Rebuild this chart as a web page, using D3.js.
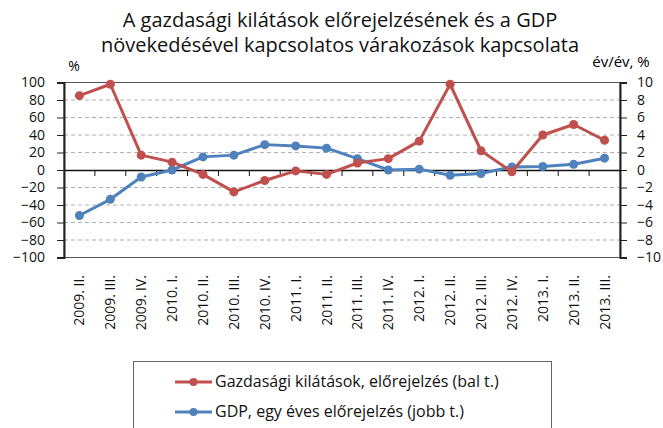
<!DOCTYPE html>
<html lang="hu"><head><meta charset="UTF-8">
<title>GDP várakozások</title>
<script src="https://d3js.org/d3.v7.min.js"></script>
<style type="text/css">
  body { margin: 0; background: #fff; }
  text { font-family: "Open Sans", "Liberation Sans", sans-serif; }
</style>
</head>
<body>
<script type="text/javascript">

var w = 663;
var h = 428;

var categories = ["2009. II.", "2009. III.", "2009. IV.", "2010. I.", "2010. II.", "2010. III.",
  "2010. IV.", "2011. I.", "2011. II.", "2011. III.", "2011. IV.", "2012. I.", "2012. II.",
  "2012. III.", "2012. IV.", "2013. I.", "2013. II.", "2013. III."];
// bal tengely, %
var kilatasok = [85, 98, 17, 9, -5, -25, -12, -1, -5, 8, 13, 33, 98, 22, -2, 40, 52, 34];
// jobb tengely, év/év %
var gdp = [-5.2, -3.35, -0.8, 0, 1.5, 1.7, 2.9, 2.75, 2.5, 1.3, 0, 0.1, -0.6, -0.4, 0.35, 0.4, 0.65, 1.35];
var leftTicks = [-100, -80, -60, -40, -20, 0, 20, 40, 60, 80, 100];
var rightTicks = [-10, -8, -6, -4, -2, 0, 2, 4, 6, 8, 10];

var titleLines = ["A gazdasági kilátások előrejelzésének és a GDP",
  "növekedésével kapcsolatos várakozások kapcsolata"];
var legendLabels = ["Gazdasági kilátások, előrejelzés (bal t.)",
  "GDP, egy éves előrejelzés (jobb t.)"];
var red = "#c0504d", blue = "#4f81bd";

var plot = {left: 64, right: 620, top: 82.5, bottom: 257.5};

var svg = d3.select("body").append("svg")
  .attr("width", w).attr("height", h);

var xScale = d3.scaleBand().domain(categories).range([plot.left, plot.right]);
var yLeft = d3.scaleLinear().domain([-100, 100]).range([plot.bottom, plot.top]);
var yRight = d3.scaleLinear().domain([-10, 10]).range([plot.bottom, plot.top]);

// title
svg.selectAll("text.title").data(titleLines).enter().append("text")
  .attr("class", "title")
  .attr("x", 340).attr("y", function(d, i) { return 27 + i * 25; })
  .attr("text-anchor", "middle")
  .attr("font-size", "20px").attr("fill", "#111")
  .text(function(d) { return d; });

svg.append("text").attr("x", 74).attr("y", 71).attr("text-anchor", "middle")
  .attr("font-size", "14px").text("%");
svg.append("text").attr("x", 621).attr("y", 67).attr("text-anchor", "middle")
  .attr("font-size", "15px").text("év/év, %");

// grid
svg.append("g").selectAll("line").data(leftTicks.filter(function(d) { return d !== 0; }))
  .enter().append("line")
  .attr("x1", plot.left).attr("x2", plot.right)
  .attr("y1", function(d) { return yLeft(d); }).attr("y2", function(d) { return yLeft(d); })
  .attr("stroke", "#b0b0b0").attr("stroke-dasharray", "4,3");

// frame
svg.append("rect").attr("x", plot.left).attr("y", plot.top)
  .attr("width", plot.right - plot.left).attr("height", plot.bottom - plot.top)
  .attr("fill", "none").attr("stroke", "#555").attr("stroke-width", 1);

// axes
var leftAxis = d3.axisLeft(yLeft).tickValues(leftTicks).tickSize(7).tickPadding(12);
var gl = svg.append("g").attr("transform", "translate(" + plot.left + ",0)").call(leftAxis);
var rightAxis = d3.axisRight(yRight).tickValues(rightTicks).tickSize(7).tickPadding(10);
var gr = svg.append("g").attr("transform", "translate(" + plot.right + ",0)").call(rightAxis);
[gl, gr].forEach(function(g) {
  g.select(".domain").attr("stroke", "#222").attr("stroke-width", 2);
  g.selectAll(".tick line").attr("stroke", "#222");
  g.selectAll(".tick text").attr("font-size", "14px").attr("fill", "#111")
    .attr("font-family", "'DejaVu Sans', sans-serif");
});

// zero line with category ticks
var xAxis = d3.axisBottom(xScale).tickSize(0).tickFormat("");
var gx = svg.append("g").attr("transform", "translate(0," + yLeft(0) + ")").call(xAxis);
gx.select(".domain").attr("stroke", "#111").attr("stroke-width", 1.5);
gx.selectAll(".sep").data(d3.range(1, categories.length)).enter().append("line")
  .attr("x1", function(i) { return plot.left + i * xScale.step(); })
  .attr("x2", function(i) { return plot.left + i * xScale.step(); })
  .attr("y1", 0).attr("y2", 6).attr("stroke", "#111");

// category labels
svg.append("g").selectAll("text").data(categories).enter().append("text")
  .attr("transform", function(d) {
    return "translate(" + (xScale(d) + xScale.bandwidth() / 2 + 5) + ",275) rotate(-90)";
  })
  .attr("text-anchor", "end")
  .attr("font-size", "14px").attr("fill", "#111")
  .attr("font-family", "'DejaVu Sans', sans-serif")
  .text(function(d) { return d; });

function cx(d, i) { return xScale(categories[i]) + xScale.bandwidth() / 2; }

function drawSeries(values, scale, color) {
  var line = d3.line().x(cx).y(function(d) { return scale(d); });
  svg.append("path").datum(values).attr("d", line)
    .attr("fill", "none").attr("stroke", color).attr("stroke-width", 3)
    .attr("stroke-linejoin", "round");
  svg.append("g").selectAll("circle").data(values).enter().append("circle")
    .attr("cx", cx).attr("cy", function(d) { return scale(d); })
    .attr("r", 4.5).attr("fill", color);
}
drawSeries(gdp, yRight, blue);
drawSeries(kilatasok, yLeft, red);

// legend
var lg = svg.append("g");
lg.append("rect").attr("x", 133.5).attr("y", 361.5).attr("width", 418).attr("height", 80)
  .attr("fill", "#fff").attr("stroke", "#666");
[red, blue].forEach(function(c, i) {
  var y = 382 + i * 30;
  lg.append("line").attr("x1", 175).attr("x2", 212).attr("y1", y).attr("y2", y)
    .attr("stroke", c).attr("stroke-width", 3);
  lg.append("circle").attr("cx", 193.5).attr("cy", y).attr("r", 4).attr("fill", c);
  lg.append("text").attr("x", 215).attr("y", y + 5).attr("font-size", "16px")
    .attr("fill", "#111").text(legendLabels[i]);
});

</script>
</body>
</html>
